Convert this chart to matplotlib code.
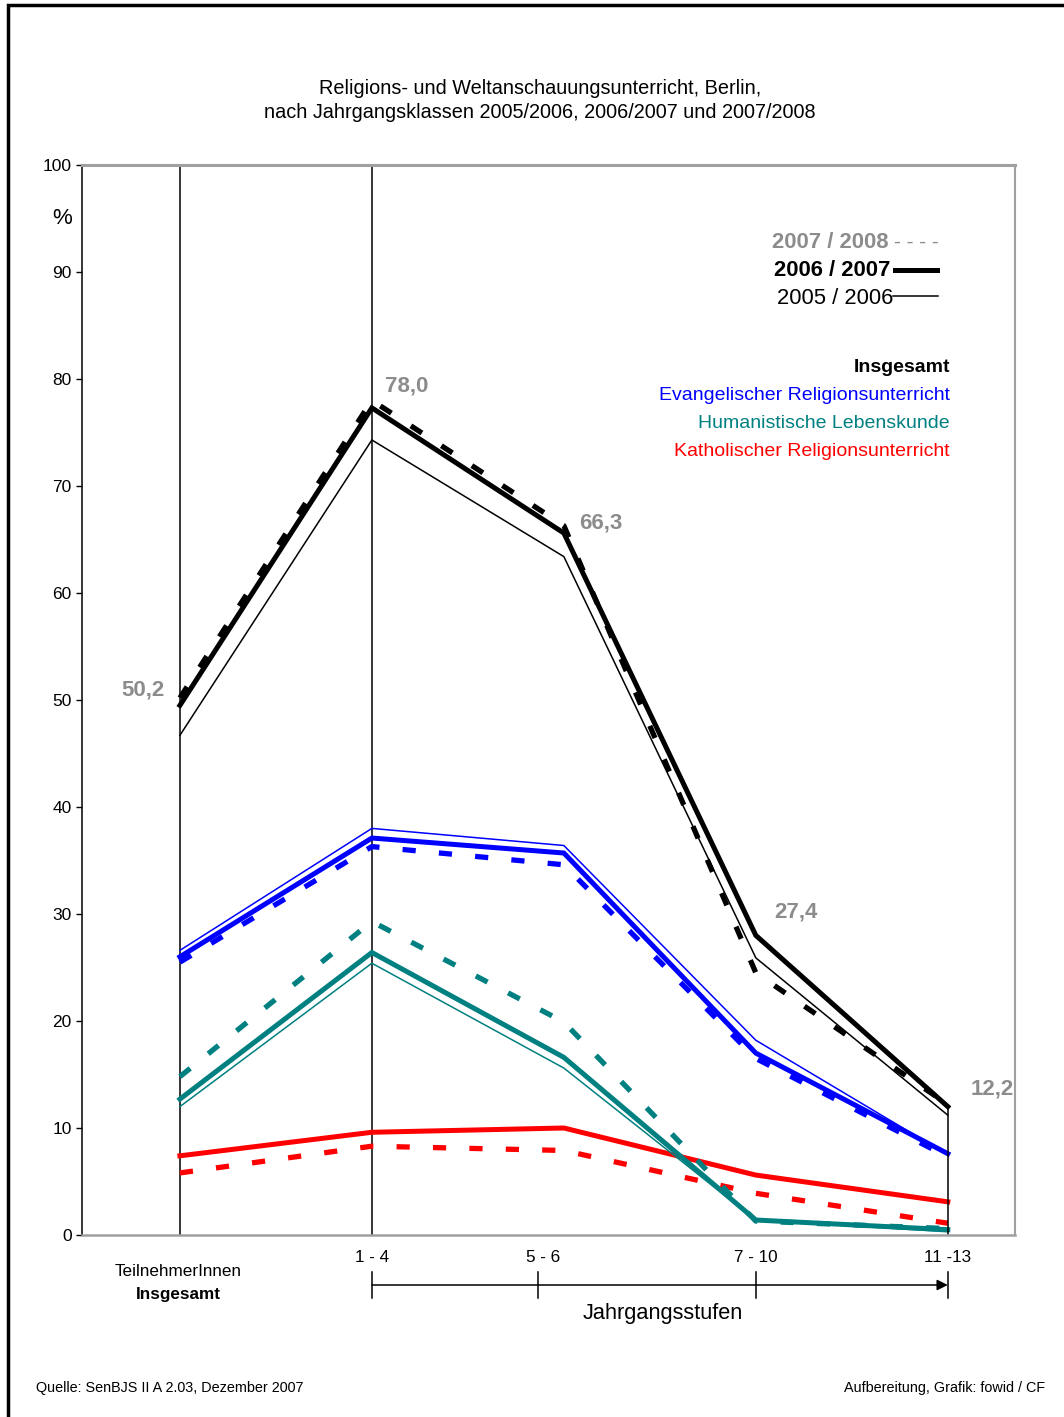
import numpy as np
import matplotlib
matplotlib.use("Agg")
import matplotlib.pyplot as plt
import matplotlib.transforms as mtransforms
from matplotlib.lines import Line2D
from matplotlib.patches import Rectangle

plt.rcParams['font.family'] = ['Liberation Sans', 'DejaVu Sans']

# --- Daten ---
x_pos = [0, 1, 2, 3, 4]
stufen_labels = ["1 - 4", "5 - 6", "7 - 10", "11 -13"]
stufen_label_x = [1.0, 1.89, 3.0, 4.0]
stufen_tick_x = [1.0, 1.865, 3.0, 4.0]

ins_0708 = [50.2, 78.0, 66.3, 24.5, 12.2]
ins_0607 = [49.5, 77.3, 65.6, 28.0, 12.0]
ins_0506 = [46.7, 74.3, 63.4, 25.9, 11.2]

ev_0708 = [25.5, 36.3, 34.6, 16.5, 7.3]
ev_0607 = [26.0, 37.1, 35.7, 17.0, 7.6]
ev_0506 = [26.6, 38.0, 36.4, 18.2, 7.5]

hum_0708 = [14.8, 29.3, 19.9, 1.3, 0.6]
hum_0607 = [12.7, 26.4, 16.6, 1.4, 0.5]
hum_0506 = [12.0, 25.4, 15.6, 1.4, 0.3]

kat_0708 = [5.8, 8.3, 7.9, 3.9, 1.1]
kat_0607 = [7.4, 9.6, 10.0, 5.6, 3.1]

wert_labels = ["50,2", "78,0", "66,3", "27,4", "12,2"]
wert_label_pos = [(-0.19, 50.9), (1.18, 79.3), (2.19, 66.5), (3.21, 30.2), (4.23, 13.6)]

W, H = 1064, 1417


def fx(px):
    return px / W


def fy(py):
    return 1 - py / H


fig = plt.figure(figsize=(W / 100, H / 100), dpi=100)
ax = fig.add_axes([fx(82), fy(1235), fx(1015) - fx(82), fy(165) - fy(1235)])

# Rahmen um die Grafik
fig.patches.append(Rectangle((fx(8), -0.1), 1.2, fy(5) + 0.1, transform=fig.transFigure,
                             fill=False, edgecolor="black", linewidth=2.5, zorder=0))

dash = (0, (2.5, 4.4))
serien = [
    ("#FF0000", None, kat_0607, kat_0708),
    ("#008080", hum_0506, hum_0607, hum_0708),
    ("#0000FF", ev_0506, ev_0607, ev_0708),
    ("black", ins_0506, ins_0607, ins_0708),
]
for farbe, d0506, d0607, d0708 in serien:
    if d0506 is not None:
        ax.plot(x_pos, d0506, color=farbe, lw=1.1, solid_joinstyle="miter")
    ax.plot(x_pos, d0607, color=farbe, lw=3.6, solid_joinstyle="miter")
    ax.plot(x_pos, d0708, color=farbe, lw=3.8, linestyle=dash, dash_capstyle="butt")

# senkrechte Linien
ax.axvline(0, color="black", lw=1.1, zorder=1)
ax.axvline(1, color="black", lw=1.1, zorder=1)
ax.plot([4, 4], [0, ins_0607[4]], color="black", lw=1.1)

for txt, (xx, yy) in zip(wert_labels, wert_label_pos):
    ax.text(xx, yy, txt, color="#8c8c8c", fontsize=16, fontweight="bold",
            ha="center", va="center")

ax.set_xlim(-0.51, 4.35)
ax.set_ylim(0, 100)
ax.set_yticks(np.arange(0, 101, 10))
ax.tick_params(axis="y", direction="out", length=4, labelsize=12.5, width=1)
ax.set_xticks([])
for s in ["top", "right", "bottom"]:
    ax.spines[s].set_color("#a0a0a0")
ax.spines["top"].set_linewidth(2.2)
ax.spines["bottom"].set_linewidth(1.8)
ax.spines["right"].set_linewidth(1.5)
ax.spines["left"].set_color("black")
ax.spines["left"].set_linewidth(1.1)

# Jahrgangsstufen-Achse unten
trans = mtransforms.blended_transform_factory(ax.transData, ax.transAxes)
ya = -50 / 1070
ax.annotate("", xy=(stufen_tick_x[-1], ya), xytext=(stufen_tick_x[0], ya),
            xycoords=trans, textcoords=trans, annotation_clip=False,
            arrowprops=dict(arrowstyle="-|>", color="black", lw=1.1,
                            mutation_scale=16, shrinkA=0, shrinkB=0))
for xt in stufen_tick_x:
    ax.plot([xt, xt], [-37 / 1070, -63 / 1070], color="black", lw=1.1,
            transform=trans, clip_on=False)
for xt, lab in zip(stufen_label_x, stufen_labels):
    ax.text(xt, -23 / 1070, lab, transform=trans, ha="center", va="center", fontsize=12.3)

fig.text(fx(178), fy(1271), "TeilnehmerInnen", ha="center", va="center", fontsize=12.3)
fig.text(fx(178), fy(1294), "Insgesamt", ha="center", va="center", fontsize=12.3, fontweight="bold")
fig.text(fx(663), fy(1314), "Jahrgangsstufen", ha="center", va="center", fontsize=15.7)

fig.text(fx(62), fy(218), "%", ha="center", va="center", fontsize=16)

# Titel
fig.text(fx(540), fy(88), "Religions- und Weltanschauungsunterricht, Berlin,",
         ha="center", va="center", fontsize=14.3)
fig.text(fx(540), fy(112), "nach Jahrgangsklassen 2005/2006, 2006/2007 und 2007/2008",
         ha="center", va="center", fontsize=14.3)

# Legende Schuljahre
fig.text(fx(888), fy(242), "2007 / 2008", color="#8c8c8c", ha="right", va="center",
         fontsize=15.8, fontweight="bold")
fig.text(fx(894), fy(243), "- - - -", color="#8c8c8c", ha="left", va="center", fontsize=15)
fig.text(fx(890), fy(270), "2006 / 2007", color="black", ha="right", va="center",
         fontsize=15.8, fontweight="bold")
fig.lines.append(Line2D([fx(895), fx(937)], [fy(270), fy(270)], transform=fig.transFigure,
                        color="black", lw=3.6))
fig.text(fx(893), fy(299), "2005 / 2006", color="black", ha="right", va="center", fontsize=15.8)
fig.lines.append(Line2D([fx(893), fx(938)], [fy(296), fy(296)], transform=fig.transFigure,
                        color="black", lw=1.1))

# Legende Fächer
fach_texte = ["Insgesamt", "Evangelischer Religionsunterricht",
              "Humanistische Lebenskunde", "Katholischer Religionsunterricht"]
fach_farben = ["black", "#0000FF", "#008080", "#FF0000"]
for i, (t, c) in enumerate(zip(fach_texte, fach_farben)):
    fig.text(fx(950), fy(368 + i * 27.7), t, color=c, ha="right", va="center", fontsize=14,
             fontweight="bold" if i == 0 else "normal")

# Quellen
fig.text(fx(36), fy(1388), "Quelle: SenBJS II A 2.03, Dezember 2007", ha="left", va="center",
         fontsize=10.4)
fig.text(fx(1045), fy(1388), "Aufbereitung, Grafik: fowid / CF", ha="right", va="center",
         fontsize=10.4)

fig.savefig("out.png", dpi=100)
